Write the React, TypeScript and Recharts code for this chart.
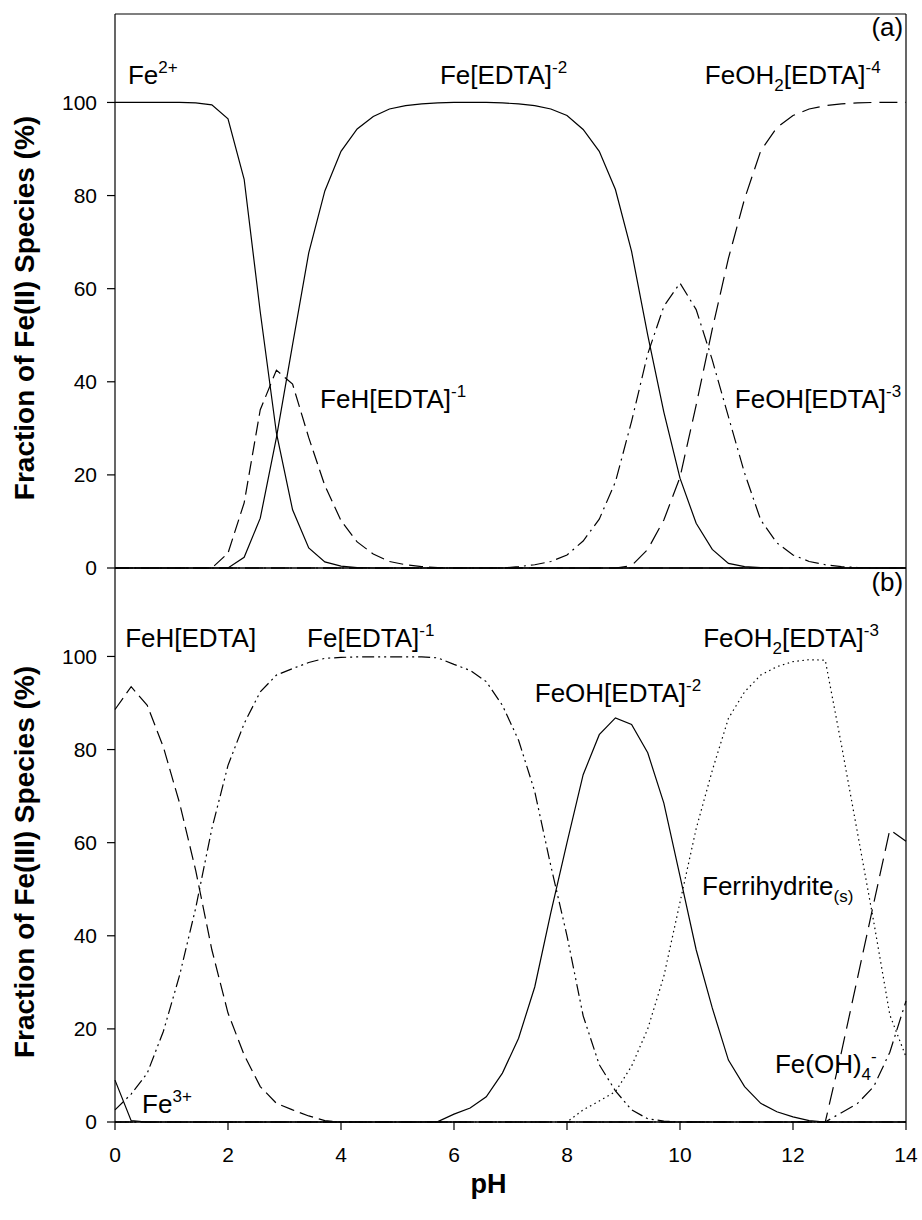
import React from 'react';
import { LineChart, Line, XAxis, YAxis, ReferenceLine, ReferenceDot } from 'recharts';

// pH grid of the speciation model (50 points, 0 - 14)
const PH = [
  0, 0.286, 0.571, 0.857, 1.143, 1.429, 1.714, 2, 2.286, 2.571,
  2.857, 3.143, 3.429, 3.714, 4, 4.286, 4.571, 4.857, 5.143, 5.429,
  5.714, 6, 6.286, 6.571, 6.857, 7.143, 7.429, 7.714, 8, 8.286,
  8.571, 8.857, 9.143, 9.429, 9.714, 10, 10.286, 10.571, 10.857, 11.143,
  11.429, 11.714, 12, 12.286, 12.571, 12.857, 13.143, 13.429, 13.714, 14,
];

// (a) Fe(II) species, %
const FE2 = [
  100, 100, 100, 100, 100, 99.9, 99.5, 96.5, 83.5, 55,
  29, 12.5, 4.3, 1.3, 0.4, 0.1, 0, 0, 0, 0,
  0, 0, 0, 0, 0, 0, 0, 0, 0, 0,
  0, 0, 0, 0, 0, 0, 0, 0, 0, 0,
  0, 0, 0, 0, 0, 0, 0, 0, 0, 0,
];
const FEH_EDTA_1 = [
  0, 0, 0, 0, 0, 0, 0, 3.2, 14, 34,
  42.5, 39.5, 28, 17.7, 10.2, 5.6, 3, 1.4, 0.7, 0.3,
  0.1, 0, 0, 0, 0, 0, 0, 0, 0, 0,
  0, 0, 0, 0, 0, 0, 0, 0, 0, 0,
  0, 0, 0, 0, 0, 0, 0, 0, 0, 0,
];
const FE_EDTA_2 = [
  0, 0, 0, 0, 0, 0, 0, 0, 2.3, 10.7,
  28, 48, 67.7, 81, 89.5, 94.3, 97, 98.6, 99.3, 99.7,
  99.9, 100, 100, 100, 99.9, 99.7, 99.3, 98.6, 97.2, 94.2,
  89.5, 81.3, 68, 50, 33.5, 19.3, 9.6, 4, 1, 0.3,
  0.1, 0, 0, 0, 0, 0, 0, 0, 0, 0,
];
const FEOH_EDTA_3 = [
  0, 0, 0, 0, 0, 0, 0, 0, 0, 0,
  0, 0, 0, 0, 0, 0, 0, 0, 0, 0,
  0, 0, 0, 0, 0, 0.3, 0.7, 1.4, 2.8, 5.8,
  10.5, 18.5, 31.5, 46, 56.2, 61.2, 55.5, 44.7, 32.5, 20.4,
  10.3, 5.4, 2.8, 1.4, 0.7, 0.3, 0.1, 0, 0, 0,
];
const FEOH2_EDTA_4 = [
  0, 0, 0, 0, 0, 0, 0, 0, 0, 0,
  0, 0, 0, 0, 0, 0, 0, 0, 0, 0,
  0, 0, 0, 0, 0, 0, 0, 0, 0, 0,
  0, 0, 0.5, 4, 10.3, 19.5, 35, 51.3, 66.5, 79.3,
  89.6, 94.6, 97.2, 98.6, 99.3, 99.7, 99.9, 100, 100, 100,
];

// (b) Fe(III) species, %
const FE3 = [
  9, 0.3, 0, 0, 0, 0, 0, 0, 0, 0,
  0, 0, 0, 0, 0, 0, 0, 0, 0, 0,
  0, 0, 0, 0, 0, 0, 0, 0, 0, 0,
  0, 0, 0, 0, 0, 0, 0, 0, 0, 0,
  0, 0, 0, 0, 0, 0, 0, 0, 0, 0,
];
const FEH_EDTA = [
  88.6, 93.5, 89.5, 80.5, 68.5, 54, 37, 23.4, 14.4, 7.6,
  4, 2.6, 1.3, 0.3, 0, 0, 0, 0, 0, 0,
  0, 0, 0, 0, 0, 0, 0, 0, 0, 0,
  0, 0, 0, 0, 0, 0, 0, 0, 0, 0,
  0, 0, 0, 0, 0, 0, 0, 0, 0, 0,
];
const FE_EDTA_1 = [
  2.6, 6, 10.5, 19.5, 31.5, 46, 63, 76.6, 85.6, 92.4,
  96, 97.4, 98.7, 99.6, 99.8, 99.9, 99.9, 99.9, 99.9, 99.9,
  99.7, 98.3, 97, 94.6, 89.5, 82, 71, 55, 40, 22.8,
  12.3, 6.7, 2.6, 0.7, 0.2, 0, 0, 0, 0, 0,
  0, 0, 0, 0, 0, 0, 0, 0, 0, 0,
];
const FEOH_EDTA_2 = [
  0, 0, 0, 0, 0, 0, 0, 0, 0, 0,
  0, 0, 0, 0, 0, 0, 0, 0, 0, 0,
  0.1, 1.7, 3, 5.4, 10.5, 18, 29, 45, 60, 74.6,
  83.2, 86.8, 85.4, 79.3, 68.5, 52.8, 37, 24.5, 13.3, 7.6,
  4, 2.2, 1.1, 0.3, 0, 0, 0, 0, 0, 0,
];
const FEOH2_EDTA_3 = [
  0, 0, 0, 0, 0, 0, 0, 0, 0, 0,
  0, 0, 0, 0, 0, 0, 0, 0, 0, 0,
  0, 0, 0, 0, 0, 0, 0, 0, 0, 2.6,
  4.5, 6.5, 12, 20, 31.3, 47.2, 63, 75.5, 86.7, 92.4,
  96, 97.8, 98.9, 99.3, 99.2, 81, 62, 43, 23, 14,
];
const FERRIHYDRITE = [
  0, 0, 0, 0, 0, 0, 0, 0, 0, 0,
  0, 0, 0, 0, 0, 0, 0, 0, 0, 0,
  0, 0, 0, 0, 0, 0, 0, 0, 0, 0,
  0, 0, 0, 0, 0, 0, 0, 0, 0, 0,
  0, 0, 0, 0, 0, 15, 31, 47, 62.8, 60.3,
];
const FE_OH_4 = [
  0, 0, 0, 0, 0, 0, 0, 0, 0, 0,
  0, 0, 0, 0, 0, 0, 0, 0, 0, 0,
  0, 0, 0, 0, 0, 0, 0, 0, 0, 0,
  0, 0, 0, 0, 0, 0, 0, 0, 0, 0,
  0, 0, 0, 0, 0, 2, 4, 7.6, 15, 26,
];

const X_TICKS = [0, 2, 4, 6, 8, 10, 12, 14];
const Y_TICKS = [0, 20, 40, 60, 80, 100];
const Y_MAX = 119;

const FONT = '"Liberation Sans", Arial, Helvetica, sans-serif';

// line styles
const SOLID = '';
const DASH = '14 6';
const LONG_DASH = '18 8';
const DASH_DOT = '14 5 2 5';
const DASH_DOT_DOT = '12 4 2 4 2 4';
const DOTTED = '1.5 3.5';

type Part = [string, 'n' | 'sup' | 'sub'];
type Note = { x: number; y: number; parts: Part[]; anchor?: 'start' | 'end' };

const NOTES_A: Note[] = [
  { x: 0.23, y: 103.9, parts: [['Fe', 'n'], ['2+', 'sup']] },
  { x: 5.75, y: 103.9, parts: [['Fe[EDTA]', 'n'], ['-2', 'sup']] },
  { x: 10.44, y: 103.9, parts: [['FeOH', 'n'], ['2', 'sub'], ['[EDTA]', 'n'], ['-4', 'sup']] },
  { x: 3.63, y: 34.4, parts: [['FeH[EDTA]', 'n'], ['-1', 'sup']] },
  { x: 10.97, y: 34.4, parts: [['FeOH[EDTA]', 'n'], ['-3', 'sup']] },
  { x: 13.95, y: 114.2, parts: [['(a)', 'n']], anchor: 'end' },
];

const NOTES_B: Note[] = [
  { x: 13.95, y: 114, parts: [['(b)', 'n']], anchor: 'end' },
  { x: 0.18, y: 102, parts: [['FeH[EDTA]', 'n']] },
  { x: 3.4, y: 102, parts: [['Fe[EDTA]', 'n'], ['-1', 'sup']] },
  { x: 10.41, y: 102, parts: [['FeOH', 'n'], ['2', 'sub'], ['[EDTA]', 'n'], ['-3', 'sup']] },
  { x: 7.43, y: 90.3, parts: [['FeOH[EDTA]', 'n'], ['-2', 'sup']] },
  { x: 10.39, y: 48.8, parts: [['Ferrihydrite', 'n'], ['(s)', 'sub']] },
  { x: 11.68, y: 10.5, parts: [['Fe(OH)', 'n'], ['4', 'sub'], ['-', 'sup']] },
  { x: 0.48, y: 1.9, parts: [['Fe', 'n'], ['3+', 'sup']] },
];

const renderParts = (parts: Part[]) => {
  let shift = 0;
  return parts.map(([t, k], i) => {
    const target = k === 'sup' ? -11 : k === 'sub' ? 7 : 0;
    const dy = target - shift;
    shift = target;
    return (
      <tspan key={i} dy={dy} fontSize={k === 'n' ? 26 : 17}>
        {t}
      </tspan>
    );
  });
};

const noteShape = (note: Note) => (props: any) => (
  <text
    x={props.cx}
    y={props.cy}
    textAnchor={note.anchor || 'start'}
    fontFamily={FONT}
    fontSize={26}
    fill="#000"
  >
    {renderParts(note.parts)}
  </text>
);

const yTitle = (text: string) => (props: any) => {
  const vb = props.viewBox || { x: 0, y: 14, width: 115, height: 554 };
  const cx = 24;
  const cy = vb.y + vb.height / 2 + 17;
  return (
    <text
      x={cx}
      y={cy}
      transform={`rotate(-90 ${cx} ${cy})`}
      textAnchor="middle"
      dominantBaseline="central"
      fontFamily={FONT}
      fontWeight="bold"
      fontSize={28}
      fill="#000"
    >
      {text}
    </text>
  );
};

const xTitle = (props: any) => {
  const vb = props.viewBox || { x: 115, y: 1122, width: 791, height: 98 };
  return (
    <text
      x={vb.x + vb.width / 2 - 22}
      y={vb.y + 71}
      textAnchor="middle"
      fontFamily={FONT}
      fontWeight="bold"
      fontSize={27}
      fill="#000"
    >
      pH
    </text>
  );
};

const seriesLine = (key: string, dash: string) => (
  <Line
    key={key}
    type="linear"
    dataKey={key}
    stroke="#000"
    strokeWidth={1.2}
    strokeDasharray={dash || undefined}
    dot={false}
    activeDot={false}
    isAnimationActive={false}
  />
);

const tickStyle = { fontSize: 21, fill: '#000', fontFamily: FONT };

export default function App() {
  const dataA = PH.map((ph, i) => ({
    ph,
    fe2: FE2[i],
    feH1: FEH_EDTA_1[i],
    fe2e: FE_EDTA_2[i],
    feOH3: FEOH_EDTA_3[i],
    feOH24: FEOH2_EDTA_4[i],
  }));
  const dataB = PH.map((ph, i) => ({
    ph,
    fe3: FE3[i],
    feH: FEH_EDTA[i],
    fe1e: FE_EDTA_1[i],
    feOH2: FEOH_EDTA_2[i],
    feOH23: FEOH2_EDTA_3[i],
    ferri: FERRIHYDRITE[i],
    feOH4: FE_OH_4[i],
  }));

  return (
    <div style={{ position: 'absolute', left: 0, top: 0, width: 922, height: 1220, background: '#fff' }}>
      <div style={{ position: 'absolute', left: 0, top: 0 }}>
        <LineChart width={922} height={600} data={dataA} margin={{ top: 14, right: 16, bottom: 0, left: 0 }}>
          <XAxis
            dataKey="ph"
            type="number"
            domain={[0, 14]}
            ticks={X_TICKS}
            tick={false}
            tickSize={8}
            height={32}
            stroke="#000"
            strokeWidth={1.2}
          />
          <YAxis
            type="number"
            domain={[0, Y_MAX]}
            ticks={Y_TICKS}
            width={115}
            tickSize={8}
            tickMargin={10}
            tick={tickStyle}
            stroke="#000"
            strokeWidth={1.2}
            label={{ content: yTitle('Fraction of Fe(II) Species (%)') }}
          />
          <ReferenceLine y={Y_MAX} stroke="#000" strokeWidth={1.2} />
          <ReferenceLine x={14} stroke="#000" strokeWidth={1.2} />
          {seriesLine('fe2', SOLID)}
          {seriesLine('feH1', DASH)}
          {seriesLine('fe2e', SOLID)}
          {seriesLine('feOH3', DASH_DOT)}
          {seriesLine('feOH24', LONG_DASH)}
          {NOTES_A.map((n, i) => (
            <ReferenceDot key={i} x={n.x} y={n.y} r={0} shape={noteShape(n)} />
          ))}
        </LineChart>
      </div>
      <div style={{ position: 'absolute', left: 0, top: 554 }}>
        <LineChart width={922} height={666} data={dataB} margin={{ top: 14, right: 16, bottom: 0, left: 0 }}>
          <XAxis
            dataKey="ph"
            type="number"
            domain={[0, 14]}
            ticks={X_TICKS}
            tick={tickStyle}
            tickSize={8}
            tickMargin={17}
            height={98}
            stroke="#000"
            strokeWidth={1.2}
            label={{ content: xTitle }}
          />
          <YAxis
            type="number"
            domain={[0, Y_MAX]}
            ticks={Y_TICKS}
            width={115}
            tickSize={8}
            tickMargin={10}
            tick={tickStyle}
            stroke="#000"
            strokeWidth={1.2}
            label={{ content: yTitle('Fraction of Fe(III) Species (%)') }}
          />
          <ReferenceLine y={Y_MAX} stroke="#000" strokeWidth={1.2} />
          <ReferenceLine x={14} stroke="#000" strokeWidth={1.2} />
          {seriesLine('fe3', SOLID)}
          {seriesLine('feH', DASH)}
          {seriesLine('fe1e', DASH_DOT_DOT)}
          {seriesLine('feOH2', SOLID)}
          {seriesLine('feOH23', DOTTED)}
          {seriesLine('ferri', LONG_DASH)}
          {seriesLine('feOH4', DASH_DOT)}
          {NOTES_B.map((n, i) => (
            <ReferenceDot key={i} x={n.x} y={n.y} r={0} shape={noteShape(n)} />
          ))}
        </LineChart>
      </div>
    </div>
  );
}
